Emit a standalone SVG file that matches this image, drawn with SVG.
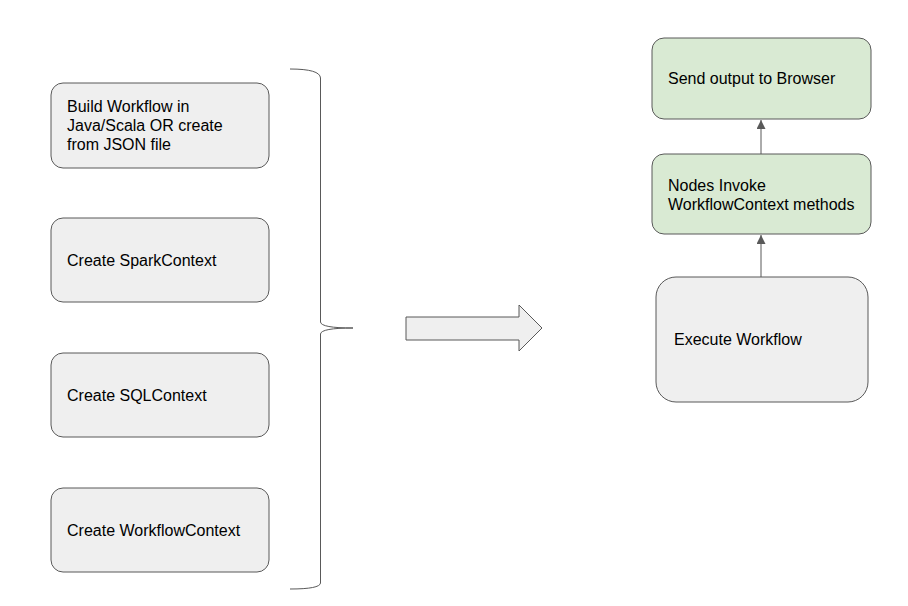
<svg xmlns="http://www.w3.org/2000/svg" width="908" height="606" viewBox="0 0 908 606">
<defs>
<style>
.g{fill:#efefef;stroke:#595959;stroke-width:1}
.gr{fill:#d9ead3;stroke:#595959;stroke-width:1}
text{font-family:"Liberation Sans",Arial,sans-serif;font-size:16px;fill:#000}
.c{stroke:#595959;stroke-width:1;fill:none}
</style>
<marker id="ah" markerWidth="10" markerHeight="10" refX="9" refY="4.5" orient="auto" markerUnits="userSpaceOnUse">
<path d="M0,0 L9,4.5 L0,9 Z" fill="#595959"/>
</marker>
</defs>
<rect width="908" height="606" fill="#fff"/>
<g id="n1"><rect class="g" x="51" y="83" width="218" height="85" rx="12"/>
<text x="67" y="112">Build Workflow in</text><text x="67" y="131">Java/Scala OR create</text><text x="67" y="150">from JSON file</text></g>
<g id="n2"><rect class="g" x="51" y="218" width="218" height="84" rx="12"/><text x="67" y="266">Create SparkContext</text></g>
<g id="n3"><rect class="g" x="51" y="353" width="218" height="84" rx="12"/><text x="67" y="401">Create SQLContext</text></g>
<g id="n4"><rect class="g" x="51" y="488" width="218" height="84" rx="12"/><text x="67" y="536">Create WorkflowContext</text></g>
<g id="brace"><path class="c" d="M290,69 Q320,69 320.5,78 L320.5,322 Q321,328 353,328 Q321,328 320.5,334 L320.5,583 Q320,589 290,589" stroke-width="1.2"/></g>
<g id="bigarrow"><path class="g" d="M406,317 L519,317 L519,305 L542,328 L519,351 L519,340 L406,340 Z"/></g>
<g id="n5"><rect class="gr" x="652" y="38" width="219" height="81" rx="12"/><text x="668" y="84">Send output to Browser</text></g>
<g id="n6"><rect class="gr" x="652" y="154" width="219" height="80" rx="12"/><text x="668" y="191">Nodes Invoke</text><text x="668" y="210">WorkflowContext methods</text></g>
<g id="n7"><rect class="g" x="656" y="277" width="212" height="125" rx="20"/><text x="674" y="345">Execute Workflow</text></g>
<g id="connectors">
<line class="c" x1="761" y1="154" x2="761" y2="120" marker-end="url(#ah)"/>
<line class="c" x1="761" y1="277" x2="761" y2="235" marker-end="url(#ah)"/>
</g>
</svg>
